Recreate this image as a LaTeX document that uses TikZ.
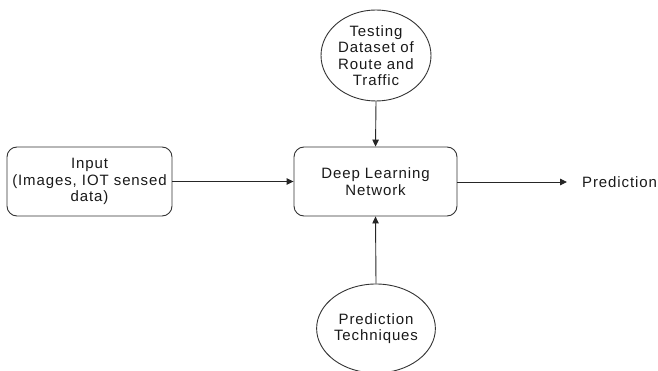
\documentclass[tikz,border=0pt]{standalone}
\usepackage{fontspec}
\setmainfont{Liberation Sans}[LetterSpace=6]
\usetikzlibrary{shapes.geometric,arrows.meta}
\tikzset{
  every node/.style={font=\fontsize{15pt}{16.5pt}\selectfont, text=black!90},
  rbox/.style={draw=black!80, line width=0.9pt, rounded corners=10pt, inner sep=0pt, align=center},
  oval/.style={ellipse, draw=black!80, line width=0.9pt, inner sep=0pt, minimum width=110pt, minimum height=91pt, align=center},
  conn/.style={draw=black!85, line width=0.9pt, -{Triangle[length=7pt,width=6.5pt]}}
}
\begin{document}
\begin{tikzpicture}[x=1pt,y=-1pt]
\useasboundingbox (0,0) rectangle (658,371);
\node[rbox, minimum width=165pt, minimum height=69pt] (in) at (89.5,181.5) {Input\\(Images, IOT sensed\\data)};
\node[rbox, minimum width=163pt, minimum height=69pt] (dl) at (375.5,181.5) {Deep Learning\\Network};
\node[oval] (test) at (376,55.5) {Testing\\Dataset of\\Route and\\Traffic};
\node[oval, minimum height=89pt] (tech) at (376,328.5) {Prediction\\Techniques};
\node[anchor=west, inner sep=0pt] (pred) at (582,182) {Prediction};
\coordinate (predend) at (567,182);
\draw[conn] (in.east) -- (dl.west);
\draw[conn] (test.south) -- (dl.north);
\draw[conn] (tech.north) -- (dl.south);
\draw[conn] (dl.east |- predend) -- (predend);
\end{tikzpicture}
\end{document}
